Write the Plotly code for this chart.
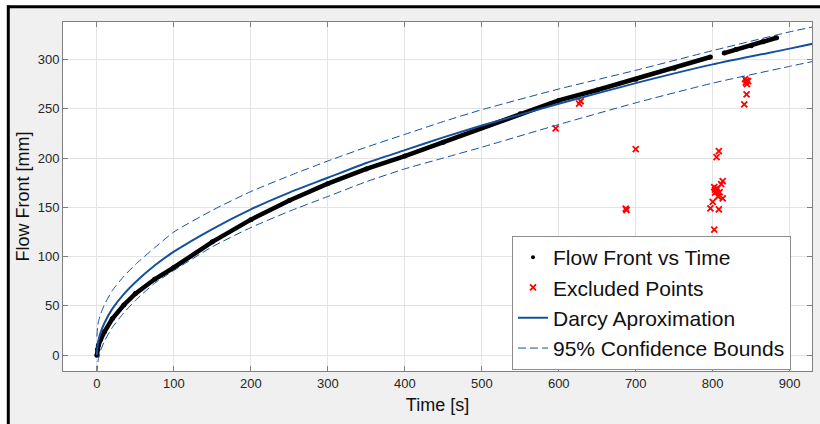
import plotly.graph_objects as go

# ---- data ----
flow_t = [0, 1, 2, 5, 10, 20, 35, 50, 75, 100, 150, 200, 250, 300, 350, 400, 450,
          500, 550, 600, 650, 700, 750, 797, None, 815, 830, 850, 865, 883]
flow_v = [0, 6, 10, 16, 24, 37, 51, 62.5, 77, 89, 115, 137.5, 157, 174, 189, 202, 216,
          231, 245, 258.5, 269, 280, 291, 302.5, None, 306.5, 310, 314, 318, 322]

excl_t = [596, 626.5, 628.5, 687, 688, 700,
          808, 805, 813, 811, 802, 803, 805, 806, 803, 809, 807, 813, 800, 797, 808, 802,
          842, 844, 846, 843, 844.5, 844, 841]
excl_v = [230, 255.3, 257.6, 148.7, 147.3, 209,
          207, 201, 176.5, 173.5, 170.5, 168, 166, 169, 165, 165.5, 161, 159, 155.5, 149, 148, 127.5,
          280, 278.5, 278, 276.5, 275, 264.5, 254.5]

fit_t = [0, 1, 2, 5, 10, 20, 35, 50, 75, 100, 150, 200, 250, 300, 350, 400, 450,
         500, 600, 700, 800, 900, 930]
darcy_v = [0, 10.5, 15, 23.5, 33, 47, 62, 74, 91, 105, 128, 148, 165, 180, 195, 208, 221,
           233, 255, 276, 295, 311, 316]
upper_v = [19, 29, 34, 42, 51.5, 65.5, 80, 92, 109, 125, 147, 166, 182, 197, 211, 224, 237,
           249, 270, 289, 309, 328, 333]
lower_v = [-19, -8, -4, 5, 14.5, 28, 43, 55.5, 73, 86, 110, 129.5, 146, 161, 176, 189, 200,
           211, 234, 256, 276, 293, 298]

x_ticks = [0, 100, 200, 300, 400, 500, 600, 700, 800, 900]
y_ticks = [0, 50, 100, 150, 200, 250, 300]

BLUE = "#15509e"
FONT = "Arial, Liberation Sans, Helvetica, sans-serif"

fig = go.Figure()

# data band
fig.add_trace(go.Scatter(x=flow_t, y=flow_v, mode="lines+markers",
                         line=dict(color="black", width=4.5),
                         marker=dict(color="black", size=5),
                         connectgaps=False, showlegend=False, hoverinfo="skip"))
fig.add_trace(go.Scatter(x=[None], y=[None], mode="markers", name="Flow Front vs Time",
                         marker=dict(color="black", size=4)))
fig.add_trace(go.Scatter(x=excl_t, y=excl_v, mode="markers", name="Excluded Points",
                         marker=dict(symbol="x-thin", color="#ff0000", size=6,
                                     line=dict(color="#ff0000", width=1.8))))
fig.add_trace(go.Scatter(x=fit_t, y=darcy_v, mode="lines", name="Darcy Aproximation",
                         line=dict(color=BLUE, width=2, shape="spline", smoothing=0.6)))
fig.add_trace(go.Scatter(x=fit_t, y=upper_v, mode="lines", name="95% Confidence Bounds",
                         line=dict(color=BLUE, width=1, dash="8px,4px", shape="spline", smoothing=0.6)))
fig.add_trace(go.Scatter(x=fit_t, y=lower_v, mode="lines", showlegend=False,
                         line=dict(color=BLUE, width=1, dash="8px,4px", shape="spline", smoothing=0.6)))

L, R, T, B = 63, 8, 22, 53
W, H = 820, 424
pw, ph = W - L - R, H - T - B

def px(x):
    return (x - L) / pw

def py(y):
    return 1 - (y - T) / ph

shapes = [
    # white outer strips
    dict(type="rect", xref="paper", yref="paper", x0=px(-2), x1=px(7), y0=py(-2), y1=py(H + 2),
         fillcolor="white", line=dict(width=0), layer="above"),
    dict(type="rect", xref="paper", yref="paper", x0=px(-2), x1=px(W + 2), y0=py(-2), y1=py(5.5),
         fillcolor="white", line=dict(width=0), layer="above"),
    # black frame lines
    dict(type="line", xref="paper", yref="paper", x0=px(7), x1=px(W + 2), y0=py(6.8), y1=py(6.8),
         line=dict(color="black", width=3), layer="above"),
    dict(type="line", xref="paper", yref="paper", x0=px(8.3), x1=px(8.3), y0=py(5.5), y1=py(H + 2),
         line=dict(color="black", width=3), layer="above"),
]

axis_common = dict(showline=True, linecolor="#808080", linewidth=1, mirror="ticks",
                   ticks="inside", ticklen=5, tickcolor="#808080", tickwidth=1,
                   showgrid=True, gridcolor="#e3e3e3", gridwidth=1, zeroline=False,
                   tickfont=dict(family=FONT, size=13, color="#262626"))

fig.update_layout(
    width=W, height=H,
    margin=dict(l=L, r=R, t=T, b=B),
    paper_bgcolor="#f0f0f0", plot_bgcolor="white",
    font=dict(family=FONT, color="black"),
    xaxis=dict(range=[-44, 929], tickvals=x_ticks,
               title=dict(text="Time [s]", font=dict(family=FONT, size=18, color="#111111"), standoff=8),
               **axis_common),
    yaxis=dict(range=[-16, 338], tickvals=y_ticks,
               title=dict(text="Flow Front [mm]", font=dict(family=FONT, size=18, color="#111111"), standoff=3),
               **axis_common),
    legend=dict(x=px(512), y=py(236), xanchor="left", yanchor="top",
                bgcolor="white", bordercolor="#8c8c8c", borderwidth=1,
                font=dict(family=FONT, size=21, color="#111111"),
                tracegroupgap=0, itemwidth=30),
    shapes=shapes,
    showlegend=True,
)

fig.write_html("out.html")
